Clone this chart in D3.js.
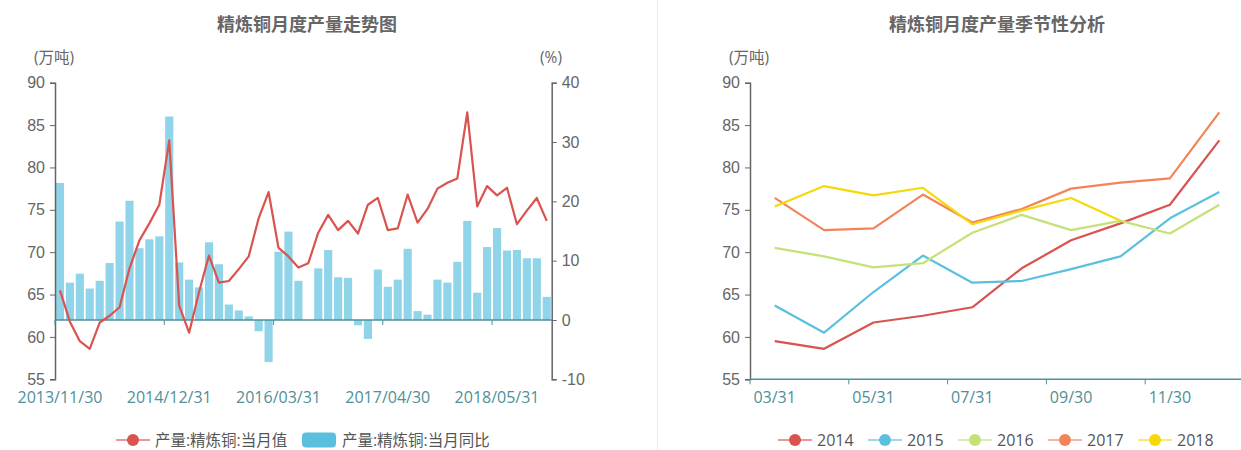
<!DOCTYPE html>
<html>
<head>
<meta charset="utf-8">
<script src="https://cdn.jsdelivr.net/npm/d3@7/dist/d3.min.js"></script>
<style>
  body { margin: 0; background: #fff; }
  svg { font-family: "Open Sans", "Noto Sans CJK SC", sans-serif; }
  .tick text { font-size: 16px; }
</style>
</head>
<body>
<svg width="1241" height="450"></svg>
<script>
// Category labels for the trend chart (Jan/Feb not published)
const dates = [
  "2013/11/30", "2013/12/31",
  "2014/03/31", "2014/04/30", "2014/05/31", "2014/06/30", "2014/07/31", "2014/08/31", "2014/09/30", "2014/10/31", "2014/11/30", "2014/12/31",
  "2015/03/31", "2015/04/30", "2015/05/31", "2015/06/30", "2015/07/31", "2015/08/31", "2015/09/30", "2015/10/31", "2015/11/30", "2015/12/31",
  "2016/03/31", "2016/04/30", "2016/05/31", "2016/06/30", "2016/07/31", "2016/08/31", "2016/09/30", "2016/10/31", "2016/11/30", "2016/12/31",
  "2017/03/31", "2017/04/30", "2017/05/31", "2017/06/30", "2017/07/31", "2017/08/31", "2017/09/30", "2017/10/31", "2017/11/30", "2017/12/31",
  "2018/03/31", "2018/04/30", "2018/05/31", "2018/06/30", "2018/07/31", "2018/08/31", "2018/09/30", "2018/10/31"
];

// Monthly output by year (万吨), March..December
const y2013 = [65.5, 61.8];
const y2014 = [59.5, 58.6, 61.7, 62.5, 63.5, 68.1, 71.4, 73.4, 75.6, 83.2];
const y2015 = [63.7, 60.5, 65.3, 69.6, 66.4, 66.6, 68.0, 69.5, 74.0, 77.1];
const y2016 = [70.5, 69.5, 68.2, 68.7, 72.3, 74.4, 72.6, 73.7, 72.2, 75.6];
const y2017 = [76.4, 72.6, 72.8, 76.8, 73.5, 75.1, 77.5, 78.2, 78.7, 86.5];
const y2018 = [75.4, 77.8, 76.7, 77.6, 73.3, 74.9, 76.4, 73.7];
const output = [...y2013, ...y2014, ...y2015, ...y2016, ...y2017, ...y2018];

// Year-on-year change (%)
const yoy = [
  23.1, 6.3,
  7.8, 5.3, 6.6, 9.6, 16.6, 20.1, 12.1, 13.6, 14.1, 34.3,
  9.7, 6.8, 5.5, 13.1, 9.4, 2.6, 1.6, 0.6, -1.9, -7.1,
  11.5, 14.9, 6.6, null, 8.7, 11.8, 7.2, 7.1, -0.9, -3.2,
  8.5, 5.6, 6.8, 12.0, 1.5, 0.9, 6.8, 6.3, 9.8, 16.7,
  4.6, 12.3, 15.5, 11.7, 11.8, 10.4, 10.4, 3.9
];

const leftTicks = [55, 60, 65, 70, 75, 80, 85, 90];
const pctTicks = [-10, 0, 10, 20, 30, 40];

// Seasonal chart
const months = ["03/31", "04/30", "05/31", "06/30", "07/31", "08/31", "09/30", "10/31", "11/30", "12/31"];
const years = ["2014", "2015", "2016", "2017", "2018"];
const yearValues = [y2014, y2015, y2016, y2017, y2018];
const yearColors = ["#d9534f", "#5bc0de", "#c5e27a", "#f2845a", "#f5d90a"];

const axisGray = "#666", textGray = "#666", teal = "#4f8f98";
const red = "#d9534f", blue = "#5bc0de";

const svg = d3.select("svg");

// divider
svg.append("line")
  .attr("x1", 657.5).attr("x2", 657.5).attr("y1", 0).attr("y2", 450)
  .attr("stroke", "#eaeaea");

// ---------- Left chart ----------
const plotTop = 82.7, plotBottom = 379.3;
const x = d3.scaleBand().domain(dates).range([55, 551.7]).paddingInner(0.18).paddingOuter(0.09);
const xb = d3.scaleBand().domain(dates).range([55, 551.7]);
const y = d3.scaleLinear().domain([55, 90]).range([plotBottom, plotTop]);
const yp = d3.scaleLinear().domain([-10, 40]).range([plotBottom, plotTop]);

svg.append("text")
  .attr("x", 307).attr("y", 31).attr("text-anchor", "middle")
  .style("font-size", "18px").style("font-weight", "bold").attr("fill", "#666")
  .text("精炼铜月度产量走势图");

svg.append("text").attr("x", 54).attr("y", 63).attr("text-anchor", "middle")
  .style("font-size", "15.5px").attr("fill", textGray).text("(万吨)");
svg.append("text").attr("x", 551).attr("y", 63).attr("text-anchor", "middle")
  .style("font-size", "15.5px").attr("fill", textGray).text("(%)");

// bars
svg.append("g").selectAll("rect")
  .data(dates.map((d, i) => ({ d, v: yoy[i] })).filter(o => o.v !== null))
  .join("rect")
  .attr("x", o => x(o.d))
  .attr("width", x.bandwidth())
  .attr("y", o => yp(Math.max(0, o.v)))
  .attr("height", o => Math.abs(yp(o.v) - yp(0)))
  .attr("fill", blue).attr("fill-opacity", 0.68);

// left y axis
const gl = svg.append("g").attr("transform", "translate(55,0)")
  .call(d3.axisLeft(y).tickValues(leftTicks).tickSize(5).tickPadding(5));
gl.select(".domain").attr("stroke", axisGray).attr("stroke-width", 1.5);
gl.selectAll(".tick line").attr("stroke", axisGray);
gl.selectAll(".tick text").attr("fill", textGray);

// right y axis
const gr = svg.append("g").attr("transform", "translate(551.7,0)")
  .call(d3.axisRight(yp).tickValues(pctTicks).tickSize(5).tickPadding(5).tickFormat(d => String(d)));
gr.select(".domain").attr("stroke", axisGray).attr("stroke-width", 1.5);
gr.selectAll(".tick line").attr("stroke", axisGray);
gr.selectAll(".tick text").attr("fill", textGray);

// category axis at zero of the % axis
const labelIdx = [0, 11, 22, 33, 44];
const gx = svg.append("g").attr("transform", `translate(0,${yp(0)})`);
gx.append("line").attr("x1", 55).attr("x2", 551.7).attr("stroke", teal).attr("stroke-width", 1.5);
gx.selectAll(".tk").data(labelIdx).join("line").attr("class", "tk")
  .attr("x1", i => xb(dates[i])).attr("x2", i => xb(dates[i]))
  .attr("y1", 0).attr("y2", 5).attr("stroke", teal);
svg.append("g").selectAll("text").data(labelIdx).join("text")
  .attr("x", i => xb(dates[i]) + xb.bandwidth() / 2)
  .attr("y", 403).attr("text-anchor", "middle")
  .style("font-size", "16px").attr("fill", teal)
  .text(i => dates[i]);

// output line
const line = d3.line().x((v, i) => xb(dates[i]) + xb.bandwidth() / 2).y(v => y(v));
svg.append("path").datum(output)
  .attr("fill", "none").attr("stroke", red).attr("stroke-width", 2.2)
  .attr("stroke-linejoin", "round").attr("d", line);

// legend
const lg = svg.append("g").attr("transform", "translate(0,440)");
lg.append("line").attr("x1", 116).attr("x2", 150).attr("stroke", red).attr("stroke-width", 2).attr("stroke-opacity", 0.6);
lg.append("circle").attr("cx", 133).attr("r", 6).attr("fill", red);
lg.append("text").attr("x", 155).attr("y", 6).style("font-size", "15.5px").attr("fill", "#555").text("产量:精炼铜:当月值");
lg.append("rect").attr("x", 302).attr("y", -7.5).attr("width", 34).attr("height", 15).attr("rx", 4).attr("fill", blue);
lg.append("text").attr("x", 342).attr("y", 6).style("font-size", "15.5px").attr("fill", "#555").text("产量:精炼铜:当月同比");

// ---------- Right chart ----------
const x2 = d3.scaleBand().domain(months).range([750, 1244]);
const y2 = d3.scaleLinear().domain([55, 90]).range([plotBottom, plotTop]);

svg.append("text")
  .attr("x", 997).attr("y", 31).attr("text-anchor", "middle")
  .style("font-size", "18px").style("font-weight", "bold").attr("fill", "#666")
  .text("精炼铜月度产量季节性分析");
svg.append("text").attr("x", 749).attr("y", 63).attr("text-anchor", "middle")
  .style("font-size", "15.5px").attr("fill", textGray).text("(万吨)");

const gl2 = svg.append("g").attr("transform", "translate(750,0)")
  .call(d3.axisLeft(y2).tickValues(leftTicks).tickSize(5).tickPadding(5));
gl2.select(".domain").attr("stroke", axisGray).attr("stroke-width", 1.5);
gl2.selectAll(".tick line").attr("stroke", axisGray);
gl2.selectAll(".tick text").attr("fill", textGray);

const monthIdx = [0, 2, 4, 6, 8];
const gx2 = svg.append("g").attr("transform", `translate(0,${plotBottom})`);
gx2.append("line").attr("x1", 750).attr("x2", 1244).attr("stroke", teal).attr("stroke-width", 1.5);
gx2.selectAll(".tk").data(monthIdx).join("line").attr("class", "tk")
  .attr("x1", i => x2(months[i])).attr("x2", i => x2(months[i]))
  .attr("y1", 0).attr("y2", 5).attr("stroke", teal);
svg.append("g").selectAll("text").data(monthIdx).join("text")
  .attr("x", i => x2(months[i]) + x2.bandwidth() / 2)
  .attr("y", 403).attr("text-anchor", "middle")
  .style("font-size", "16px").attr("fill", teal)
  .text(i => months[i]);

const line2 = d3.line().x((v, i) => x2(months[i]) + x2.bandwidth() / 2).y(v => y2(v));
svg.append("g").selectAll("path").data(yearValues).join("path")
  .attr("fill", "none").attr("stroke", (d, i) => yearColors[i]).attr("stroke-width", 2.2)
  .attr("stroke-linejoin", "round").attr("d", line2);

const lg2 = svg.append("g").attr("transform", "translate(0,440)")
  .selectAll("g").data(years).join("g")
  .attr("transform", (d, i) => `translate(${795 + i * 90},0)`);
lg2.append("line").attr("x1", -17).attr("x2", 17)
  .attr("stroke", (d, i) => yearColors[i]).attr("stroke-width", 2).attr("stroke-opacity", 0.6);
lg2.append("circle").attr("r", 6).attr("fill", (d, i) => yearColors[i]);
lg2.append("text").attr("x", 22).attr("y", 6).style("font-size", "16px").attr("fill", "#555").text(d => d);
</script>
</body>
</html>
